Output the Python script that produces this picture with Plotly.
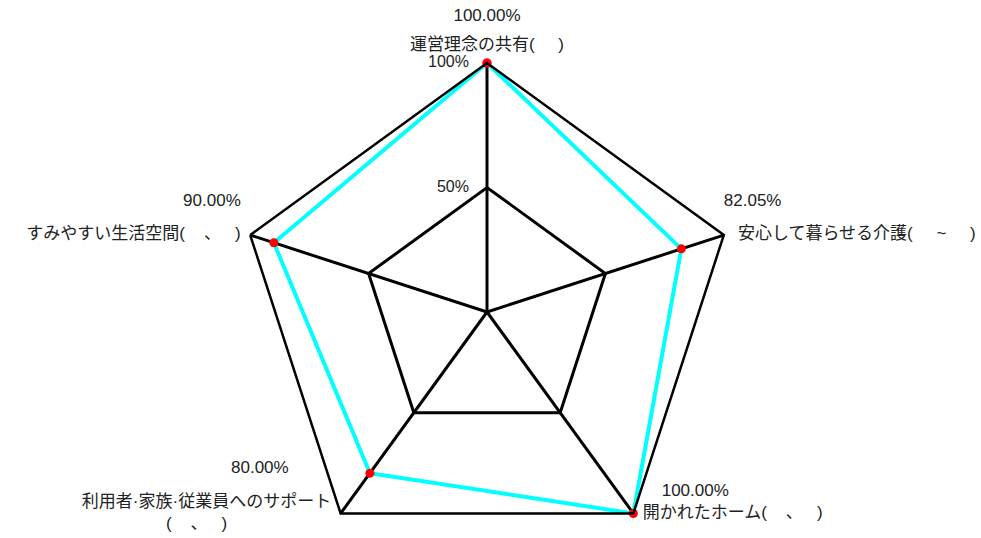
import plotly.graph_objects as go

NB = "\u00a0"

categories = [
    "運営理念の共有(" + NB * 5 + ")",
    "安心して暮らせる介護(" + NB * 5 + "~" + NB * 5 + ")",
    "開かれたホーム(" + NB * 4 + "、" + NB * 3 + ")",
    "利用者·家族·従業員へのサポート",
    "すみやすい生活空間(" + NB * 4 + "、" + NB * 3 + ")",
]
values = [100.0, 82.05, 100.0, 80.0, 90.0]
value_labels = ["100.00%", "82.05%", "100.00%", "80.00%", "90.00%"]
radial_ticks = [0, 50, 100]
radial_tick_labels = ["0%", "50%", "100%"]
sub_label = "(" + NB * 4 + "、" + NB * 3 + ")"

# category label layout per vertex
cat_text = [
    categories[0],
    NB * 3 + categories[1],
    NB * 2 + categories[2],
    categories[3] + NB * 2 + "<br>" + sub_label + NB * 24,
    categories[4] + NB * 2,
]
cat_pos = ["top center", "middle right", "middle right", "middle left", "middle left"]
cat_offset = [12, 0, 0, 0, 0]

# value label layout per vertex (placed above the category label)
val_text = [
    value_labels[0] + "<br>" + NB,
    value_labels[1] + ("<br>" + NB) * 3,
    NB * 6 + value_labels[2] + ("<br>" + NB) * 2,
    value_labels[3] + NB * 11 + ("<br>" + NB) * 4,
    value_labels[4] + NB * 2 + ("<br>" + NB) * 3,
]
val_pos = ["top center", "middle right", "middle right", "middle left", "middle left"]
val_offset = [24, 0, 0, 0, 0]

FONT = "Liberation Sans, Arial, Noto Sans CJK JP, sans-serif"

fig = go.Figure()

fig.add_trace(go.Scatterpolar(
    r=values + [values[0]],
    theta=categories + [categories[0]],
    mode="lines+markers",
    line=dict(color="#00FFFF", width=4),
    marker=dict(color="#FF0000", size=9),
    hoverinfo="skip",
    showlegend=False,
))

for txt, pos, off in [(cat_text, cat_pos, cat_offset), (val_text, val_pos, val_offset)]:
    fig.add_trace(go.Scatterpolar(
        r=[radial_ticks[-1]] * len(categories),
        theta=categories,
        mode="markers+text",
        marker=dict(size=off, opacity=0, color="white"),
        text=txt,
        textposition=pos,
        textfont=dict(family=FONT, size=17, color="#222222"),
        cliponaxis=False,
        hoverinfo="skip",
        showlegend=False,
    ))

fig.add_trace(go.Scatterpolar(
    r=radial_ticks,
    theta=[categories[0]] * len(radial_ticks),
    mode="markers+text",
    marker=dict(size=0, opacity=0, color="white"),
    text=[t + NB * 3 for t in radial_tick_labels],
    textposition="middle left",
    textfont=dict(family=FONT, size=16, color="#222222"),
    cliponaxis=False,
    hoverinfo="skip",
    showlegend=False,
))

fig.update_layout(
    width=981,
    height=600,
    autosize=False,
    margin=dict(l=238, r=245, t=63, b=39),
    paper_bgcolor="white",
    plot_bgcolor="white",
    showlegend=False,
    polar=dict(
        bgcolor="white",
        gridshape="linear",
        domain=dict(x=[0, 1], y=[0, 1]),
        radialaxis=dict(
            range=[0, 100],
            tickvals=radial_ticks,
            showticklabels=False,
            ticks="",
            showline=False,
            gridcolor="black",
            gridwidth=2.5,
        ),
        angularaxis=dict(
            rotation=90,
            direction="clockwise",
            showticklabels=False,
            ticks="",
            gridcolor="black",
            gridwidth=2.5,
            linecolor="black",
            linewidth=2.5,
            showline=True,
        ),
    ),
)

fig.write_html(
    "out.html",
    config={"displayModeBar": False},
    post_script="document.body.style.margin='0';document.body.style.overflow='hidden';document.documentElement.style.overflow='hidden';",
)
